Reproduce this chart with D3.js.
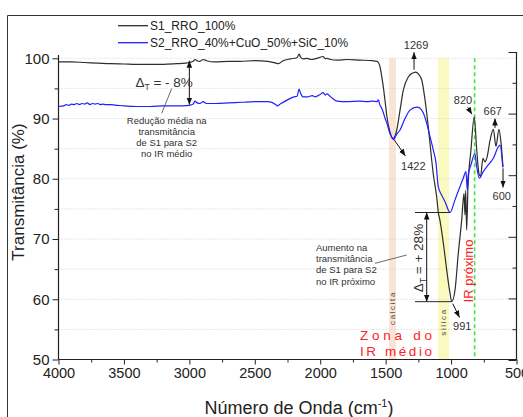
<!DOCTYPE html>
<html>
<head>
<meta charset="utf-8">
<script src="https://cdn.jsdelivr.net/npm/d3@7"></script>
<style>
  body { margin: 0; background: #fff; }
  svg { display: block; font-family: Arial, "Liberation Sans", sans-serif; }
</style>
</head>
<body>
<svg id="chart" width="523" height="417"></svg>
<script>
// FTIR spectra: wavenumber (cm-1), transmittance (%)
const s1Data = [
  [4000, 99.4], [3900, 99.4], [3800, 99.3], [3700, 99.2], [3600, 99.1], [3500, 99.05],
  [3400, 99.0], [3300, 99.0], [3200, 99.0], [3100, 99.1], [3030, 99.2], [3000, 99.3],
  [2970, 99.5], [2957, 99.8], [2940, 99.6], [2919, 99.5], [2896, 99.8], [2870, 99.6],
  [2804, 99.4], [2700, 99.5], [2613, 99.5], [2500, 99.6], [2400, 99.5], [2338, 99.2],
  [2320, 99.1], [2284, 99.6], [2230, 99.9], [2177, 100.1], [2161, 100.7], [2150, 100.2],
  [2131, 99.9], [2101, 100.0], [2070, 99.8], [2040, 99.9], [2010, 100.1], [1979, 100.3],
  [1960, 99.9], [1948, 100.0], [1920, 99.8], [1872, 99.7], [1795, 99.8], [1700, 99.7],
  [1600, 99.6], [1566, 99.5], [1556, 99.3], [1543, 98.6], [1530, 97.0], [1518, 95.3],
  [1505, 93.0], [1490, 90.3], [1467, 87.8], [1450, 86.8], [1441, 86.7], [1430, 87.0],
  [1415, 88.1], [1390, 91.4], [1365, 94.7], [1327, 96.9], [1289, 97.6], [1270, 97.7],
  [1250, 97.4], [1224, 96.4], [1199, 93.1], [1174, 88.6], [1148, 83.1], [1136, 80.8],
  [1110, 77.0], [1098, 74.5], [1085, 73.1], [1059, 69.3], [1033, 64.8], [1008, 61.0],
  [995, 59.6], [970, 61.5], [945, 67.6], [919, 73.1], [901, 77.6], [894, 74.0],
  [888, 78.1], [881, 71.5], [871, 78.5], [848, 84.8], [823, 90.3], [804, 84.8],
  [787, 80.9], [775, 80.4], [756, 83.4], [741, 82.8], [725, 83.6], [702, 86.4],
  [677, 88.2], [657, 85.4], [634, 88.2], [618, 85.9], [603, 81.9]
];
const s2Data = [
  [4000, 92.0], [3960, 92.1], [3940, 92.3], [3920, 92.2], [3900, 92.4], [3880, 92.3],
  [3860, 92.5], [3840, 92.3], [3820, 92.5], [3800, 92.4], [3780, 92.6], [3760, 92.3],
  [3740, 92.5], [3720, 92.4], [3700, 92.5], [3680, 92.3], [3660, 92.4], [3640, 92.3],
  [3600, 92.3], [3550, 92.2], [3500, 92.1], [3400, 92.0], [3300, 92.0], [3200, 92.1],
  [3100, 92.1], [3000, 92.2], [2970, 92.4], [2957, 92.9], [2940, 92.6], [2919, 92.5],
  [2896, 92.8], [2870, 92.5], [2800, 92.5], [2700, 92.6], [2600, 92.7], [2500, 92.8],
  [2400, 92.8], [2338, 92.3], [2330, 92.1], [2300, 92.5], [2250, 93.1], [2200, 93.6],
  [2177, 93.7], [2161, 94.9], [2150, 94.2], [2131, 93.6], [2100, 93.6], [2060, 93.8],
  [2040, 93.6], [2000, 94.0], [1979, 94.3], [1960, 93.9], [1948, 94.1], [1920, 93.6],
  [1872, 92.9], [1795, 92.8], [1700, 92.9], [1640, 92.8], [1600, 92.9], [1566, 92.8],
  [1556, 93.1], [1543, 92.2], [1530, 91.7], [1518, 91.0], [1505, 90.1], [1490, 89.2],
  [1467, 87.5], [1450, 86.8], [1438, 86.5], [1428, 86.9], [1415, 87.4], [1390, 88.1],
  [1352, 90.0], [1314, 91.4], [1263, 91.9], [1237, 91.7], [1212, 90.9], [1186, 89.2],
  [1161, 87.0], [1136, 84.8], [1115, 82.6], [1098, 78.7], [1072, 77.3], [1046, 76.2],
  [1008, 74.4], [970, 76.5], [932, 78.7], [907, 80.1], [886, 81.2], [876, 78.1],
  [869, 80.6], [848, 82.3], [818, 84.2], [806, 82.3], [784, 80.1], [754, 81.2],
  [716, 82.3], [677, 83.4], [639, 85.3], [626, 85.6], [605, 82.0]
];

const seriesNames = ['S1_RRO_100%', 'S2_RRO_40%+CuO_50%+SiC_10%'];
const seriesColors = ['#2e2e2e', '#1f1fff'];
const xTicks = [4000, 3500, 3000, 2500, 2000, 1500, 1000, 500];
const yTicks = [50, 60, 70, 80, 90, 100];
const gridValues = [55, 60, 65, 70, 75, 80, 85, 90, 95, 100];
const bands = [
  { name: 'calcita', from: 1474, to: 1421, color: '#fbe4d6' },
  { name: 'silica', from: 1100, to: 1016, color: '#fafac0' }
];
const nirLimit = 820;

const svg = d3.select('#chart');
const x = d3.scaleLinear().domain([4000, 500]).range([58.5, 516.5]);
const y = d3.scaleLinear().domain([50, 100]).range([359.5, 58.3]);
const yRight = d3.scaleLinear().domain([0, 10]).range([360, 52]);

const defs = svg.append('defs');
defs.append('marker')
  .attr('id', 'ah')
  .attr('viewBox', '0 -4 8 8')
  .attr('refX', 8).attr('refY', 0)
  .attr('markerWidth', 7).attr('markerHeight', 7)
  .attr('markerUnits', 'userSpaceOnUse')
  .attr('orient', 'auto-start-reverse')
  .append('path').attr('d', 'M0,-3.2L8,0L0,3.2Z').attr('fill', '#111');

// outer frame of the figure
svg.append('path').attr('d', 'M7.5,417V15.5H523')
  .attr('fill', 'none').attr('stroke', '#333').attr('stroke-width', 1);

// bands
svg.append('g').selectAll('rect').data(bands).enter().append('rect')
  .attr('x', d => x(d.from))
  .attr('width', d => x(d.to) - x(d.from))
  .attr('y', y(100))
  .attr('height', y(50) - y(100))
  .attr('fill', d => d.color);

// grid
svg.append('g').selectAll('line').data(gridValues).enter().append('line')
  .attr('x1', x(4000)).attr('x2', x(500))
  .attr('y1', d => y(d)).attr('y2', d => y(d))
  .attr('stroke', '#c4c4c4').attr('stroke-width', 0.8)
  .attr('stroke-dasharray', '1,2');

// near-IR boundary
svg.append('line')
  .attr('x1', x(nirLimit)).attr('x2', x(nirLimit))
  .attr('y1', y(100)).attr('y2', y(50))
  .attr('stroke', '#3de83d').attr('stroke-width', 1.6)
  .attr('stroke-dasharray', '4,3');

// curves
const line = d3.line().x(d => x(d[0])).y(d => y(d[1])).curve(d3.curveMonotoneX);
[s1Data, s2Data].forEach((data, i) => {
  svg.append('path').datum(data)
    .attr('d', line)
    .attr('fill', 'none')
    .attr('stroke', seriesColors[i])
    .attr('stroke-width', 1.2)
    .attr('stroke-linejoin', 'round');
});

// axes
const axisColor = '#222';
const xAxis = svg.append('g').attr('transform', `translate(0,${y(50)})`)
  .call(d3.axisBottom(x).tickValues(xTicks).tickSize(5).tickPadding(3).tickFormat(d3.format('d')));
const xMinor = svg.append('g').attr('transform', `translate(0,${y(50)})`)
  .call(d3.axisBottom(x).tickValues(d3.range(3750, 500, -500)).tickSize(3).tickFormat(''));
const yAxis = svg.append('g').attr('transform', `translate(${x(4000)},0)`)
  .call(d3.axisLeft(y).tickValues(yTicks).tickSize(6).tickPadding(3));
const yMinor = svg.append('g').attr('transform', `translate(${x(4000)},0)`)
  .call(d3.axisLeft(y).tickValues(d3.range(55, 100, 10)).tickSize(4).tickFormat(''));
const rAxis = svg.append('g').attr('transform', `translate(${x(500)},0)`)
  .call(d3.axisLeft(yRight).tickValues(d3.range(0, 11)).tickSize(0).tickFormat(''));
rAxis.selectAll('.tick line').attr('x2', d => d % 2 === 0 ? -8 : -4);

[xAxis, xMinor, yAxis, yMinor, rAxis].forEach(g => {
  g.select('.domain').remove();
  g.selectAll('.tick line').attr('stroke', axisColor).attr('stroke-width', 1);
});
xAxis.selectAll('text').attr('font-size', 14.5).attr('fill', axisColor).attr('font-family', 'Arial, "Liberation Sans", sans-serif');
yAxis.selectAll('text').attr('font-size', 15).attr('fill', axisColor).attr('font-family', 'Arial, "Liberation Sans", sans-serif');

svg.append('line').attr('x1', x(4000)).attr('x2', x(500)).attr('y1', y(50)).attr('y2', y(50))
  .attr('stroke', axisColor).attr('stroke-width', 1.2);
svg.append('line').attr('x1', x(4000)).attr('x2', x(4000)).attr('y1', y(50)).attr('y2', y(100.55))
  .attr('stroke', axisColor).attr('stroke-width', 1.2);
svg.append('line').attr('x1', x(500)).attr('x2', x(500)).attr('y1', yRight(0)).attr('y2', yRight(10))
  .attr('stroke', axisColor).attr('stroke-width', 1.2);

// axis titles
svg.append('text')
  .attr('transform', 'translate(24,192) rotate(-90)')
  .attr('text-anchor', 'middle').attr('font-size', 17).attr('fill', '#222')
  .text('Transmitância (%)');
const xt = svg.append('text').attr('x', 299).attr('y', 414)
  .attr('text-anchor', 'middle').attr('font-size', 18).attr('fill', '#222');
xt.append('tspan').text('Número de Onda (cm');
xt.append('tspan').attr('dy', -7).attr('font-size', 11).text('-1');
xt.append('tspan').attr('dy', 7).text(')');

// legend
const legend = svg.append('g');
seriesNames.forEach((name, i) => {
  const ly = 25.7 + i * 17;
  legend.append('line').attr('x1', 118).attr('x2', 148).attr('y1', ly).attr('y2', ly)
    .attr('stroke', seriesColors[i]).attr('stroke-width', 1.3);
  legend.append('text').attr('x', 150).attr('y', ly + 4.3)
    .attr('font-size', 12).attr('fill', '#222').text(name);
});

// annotations
const ann = svg.append('g').attr('fill', '#333');
function arrow(x1, y1, x2, y2, both) {
  const l = ann.append('line')
    .attr('x1', x1).attr('y1', y1).attr('x2', x2).attr('y2', y2)
    .attr('stroke', '#111').attr('stroke-width', 1)
    .attr('marker-end', 'url(#ah)');
  if (both) l.attr('marker-start', 'url(#ah)');
}
function label(txt, cx, by, size) {
  ann.append('text').attr('x', cx).attr('y', by).attr('text-anchor', 'middle')
    .attr('font-size', size || 11).attr('fill', '#333').text(txt);
}

// mid-IR difference
arrow(x(3000), y(92.3), x(3000), y(99.6), true);
const d1 = ann.append('text').attr('x', 135.5).attr('y', 87).attr('font-size', 13.5).attr('fill', '#333');
d1.append('tspan').text('Δ');
d1.append('tspan').attr('dy', 3).attr('font-size', 8.5).text('T');
d1.append('tspan').attr('dy', -3).text(' = - 8%');
ann.append('line').attr('x1', 171.7).attr('y1', 88.5).attr('x2', 161.7).attr('y2', 113.3)
  .attr('stroke', '#444').attr('stroke-width', 0.8);
['Redução média na', 'transmitância', 'de S1 para S2', 'no IR médio'].forEach((t, i) => {
  ann.append('text').attr('x', 166.7).attr('y', 123.5 + i * 11)
    .attr('text-anchor', 'middle').attr('font-size', 9.5).attr('fill', '#333').text(t);
});

// near-IR difference
ann.append('line').attr('x1', 415).attr('x2', x(1008)).attr('y1', y(74.4)).attr('y2', y(74.4))
  .attr('stroke', '#111').attr('stroke-width', 0.9);
ann.append('line').attr('x1', 415).attr('x2', x(995)).attr('y1', y(59.6)).attr('y2', y(59.6))
  .attr('stroke', '#111').attr('stroke-width', 0.9);
arrow(426.7, y(74.4), 426.7, y(59.6), true);
const d2 = ann.append('text').attr('transform', 'translate(423,258) rotate(-90)')
  .attr('text-anchor', 'middle').attr('font-size', 13.5).attr('fill', '#333');
d2.append('tspan').text('Δ');
d2.append('tspan').attr('dy', 3).attr('font-size', 8.5).text('T');
d2.append('tspan').attr('dy', -3).text(' = + 28%');
ann.append('line').attr('x1', 375).attr('y1', 263.3).attr('x2', 406.7).attr('y2', 255)
  .attr('stroke', '#444').attr('stroke-width', 0.8);
['Aumento na', 'transmitância', 'de S1 para S2', 'no IR próximo'].forEach((t, i) => {
  ann.append('text').attr('x', 316).attr('y', 250.7 + i * 11.3)
    .attr('font-size', 9.5).attr('fill', '#333').text(t);
});

// peak labels
arrow(x(1283), y(98.1), x(1283), y(101.0));
label('1269', x(1283) + 2, 49);
arrow(x(1441) + 1, y(86.6) + 1, x(1441) + 12, y(86.6) + 17);
label('1422', 413.3, 170);
arrow(467.7, 107.3, x(823) - 2.3, y(90.3) - 2.5);
label('820', 463, 103.5);
arrow(495, y(88.2) - 1.5, 495, 118.5);
label('667', 492.7, 114.7);
arrow(x(603), y(81.9) + 1, x(603), 187.5);
label('600', 501.7, 199.5);
arrow(x(995) + 1, y(59.6) + 2, 459.5, 317.5);
label('991', 462.3, 329.5);

// band names
bands.forEach((b, i) => {
  const cx = (x(b.from) + x(b.to)) / 2 + 2.5;
  const cy = i === 0 ? 308 : 322;
  ann.append('text').attr('transform', `translate(${cx},${cy}) rotate(-90)`)
    .attr('text-anchor', 'middle').attr('font-size', 8).attr('letter-spacing', 1.6)
    .attr('fill', '#444').text(b.name);
});

// region names
const red = '#ff2424';
ann.append('text').attr('x', 360).attr('y', 340).attr('font-size', 13.5).attr('fill', red)
  .attr('textLength', 72).attr('lengthAdjust', 'spacing').text('Zona do');
ann.append('text').attr('x', 360).attr('y', 355.5).attr('font-size', 13.5).attr('fill', red)
  .attr('textLength', 72).attr('lengthAdjust', 'spacing').text('IR médio');
ann.append('text').attr('transform', 'translate(472.5,271) rotate(-90)')
  .attr('text-anchor', 'middle').attr('font-size', 13).attr('fill', red).text('IR próximo');
</script>
</body>
</html>
